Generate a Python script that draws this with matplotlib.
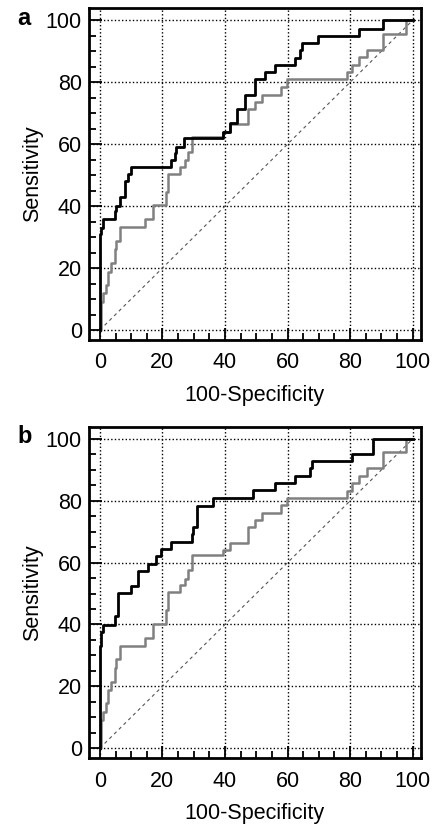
import matplotlib
matplotlib.use("Agg")
import matplotlib.pyplot as plt
from matplotlib.ticker import MultipleLocator

plt.rcParams["font.family"] = ["Liberation Sans", "DejaVu Sans"]

# step corners (100-specificity, sensitivity), drawn as steps-post
grey_x = [0, 0.3, 1, 1.9, 2.6, 3.4, 4.8, 5.3, 6.4, 14.4, 17, 21, 21.9, 25.6, 27.2,
          28.3, 29.3, 39.4, 41.6, 47.4, 49.6, 51.7, 58, 59.7, 78.9, 80.5, 83, 85.3,
          90.6, 98, 100]
grey_y = [0, 9.1, 11.8, 14.5, 18.8, 21.5, 26, 28.8, 33.1, 35.7, 40.3, 44.6, 50.5, 52.7,
          54.8, 57.5, 62.4, 64, 66.5, 71.5, 73.7, 76, 78.5, 80.9, 83.3, 85.7, 88.2, 90.5,
          95.7, 100, 100]

black_a_x = [0, 0, 0.3, 1, 4.8, 5.3, 6.4, 8, 9, 10, 22.6, 24, 24.3, 27, 39.4, 41.6, 44,
             46.4, 49.6, 52.8, 56, 62.4, 64, 64.5, 69.8, 83, 90.6, 100]
black_a_y = [0, 31, 33, 36, 38.4, 40, 43, 48, 50.5, 52.7, 54.8, 57, 59, 62, 64, 66.7,
             71.5, 76, 81, 83.3, 85.7, 88, 90.5, 92.7, 95, 97.3, 100, 100]

black_b_x = [0, 0, 0.5, 1, 4.8, 5.7, 10.1, 12.3, 15.5, 18.1, 19.7, 22.6, 29.3, 29.8,
             30.9, 36.2, 49, 56, 62.4, 67.2, 67.7, 80.5, 87.4, 100]
black_b_y = [0, 33, 37.5, 39.7, 42.9, 50.1, 52.6, 57.2, 59.6, 62, 64.4, 66.6, 69.2, 71.4,
             78.4, 81, 83.4, 85.9, 88.1, 90.5, 92.9, 95.3, 100, 100]

panels = [("a", black_a_x, black_a_y), ("b", black_b_x, black_b_y)]
ticks = [0, 20, 40, 60, 80, 100]

fig = plt.figure(figsize=(4.36, 8.27), dpi=100)
rects = [[0.204, 0.589, 0.761, 0.401], [0.204, 0.0834, 0.761, 0.4003]]

for (tag, bx, by), rect in zip(panels, rects):
    ax = fig.add_axes(rect)
    ax.set_xlim(-3.5, 102.6)
    ax.set_ylim(-3.2, 103.9)
    for t in ticks:
        ax.axvline(t, color="black", lw=1.0, ls=(0, (1, 1.6)), zorder=1)
        ax.axhline(t, color="black", lw=1.0, ls=(0, (1, 1.6)), zorder=1)
    ax.plot([0, 100], [0, 100], color="#555555", lw=0.8, ls=(0, (3, 3)), zorder=2)
    ax.plot(grey_x, grey_y, drawstyle="steps-post", color="#808080", lw=1.8, zorder=3)
    ax.plot(bx, by, drawstyle="steps-post", color="black", lw=2.0, zorder=4)

    ax.set_xticks(ticks)
    ax.set_yticks(ticks)
    ax.xaxis.set_minor_locator(MultipleLocator(5))
    ax.yaxis.set_minor_locator(MultipleLocator(5))
    ax.tick_params(which="both", direction="in", top=False, right=False, width=1.3,
                   labelsize=15.5)
    ax.tick_params(axis="x", which="major", pad=9)
    ax.tick_params(axis="y", which="major", pad=5)
    ax.tick_params(which="major", length=9)
    ax.tick_params(which="minor", length=5)
    for sp in ax.spines.values():
        sp.set_linewidth(2.0)
    ax.set_xlabel("100-Specificity", fontsize=15.5, labelpad=8)
    ax.set_ylabel("Sensitivity", fontsize=15.5, labelpad=2)
    fig.text(0.04, rect[1] + rect[3] - 0.012, tag, fontsize=17, fontweight="bold",
             ha="left", va="center")

fig.savefig("out.png", dpi=100)
